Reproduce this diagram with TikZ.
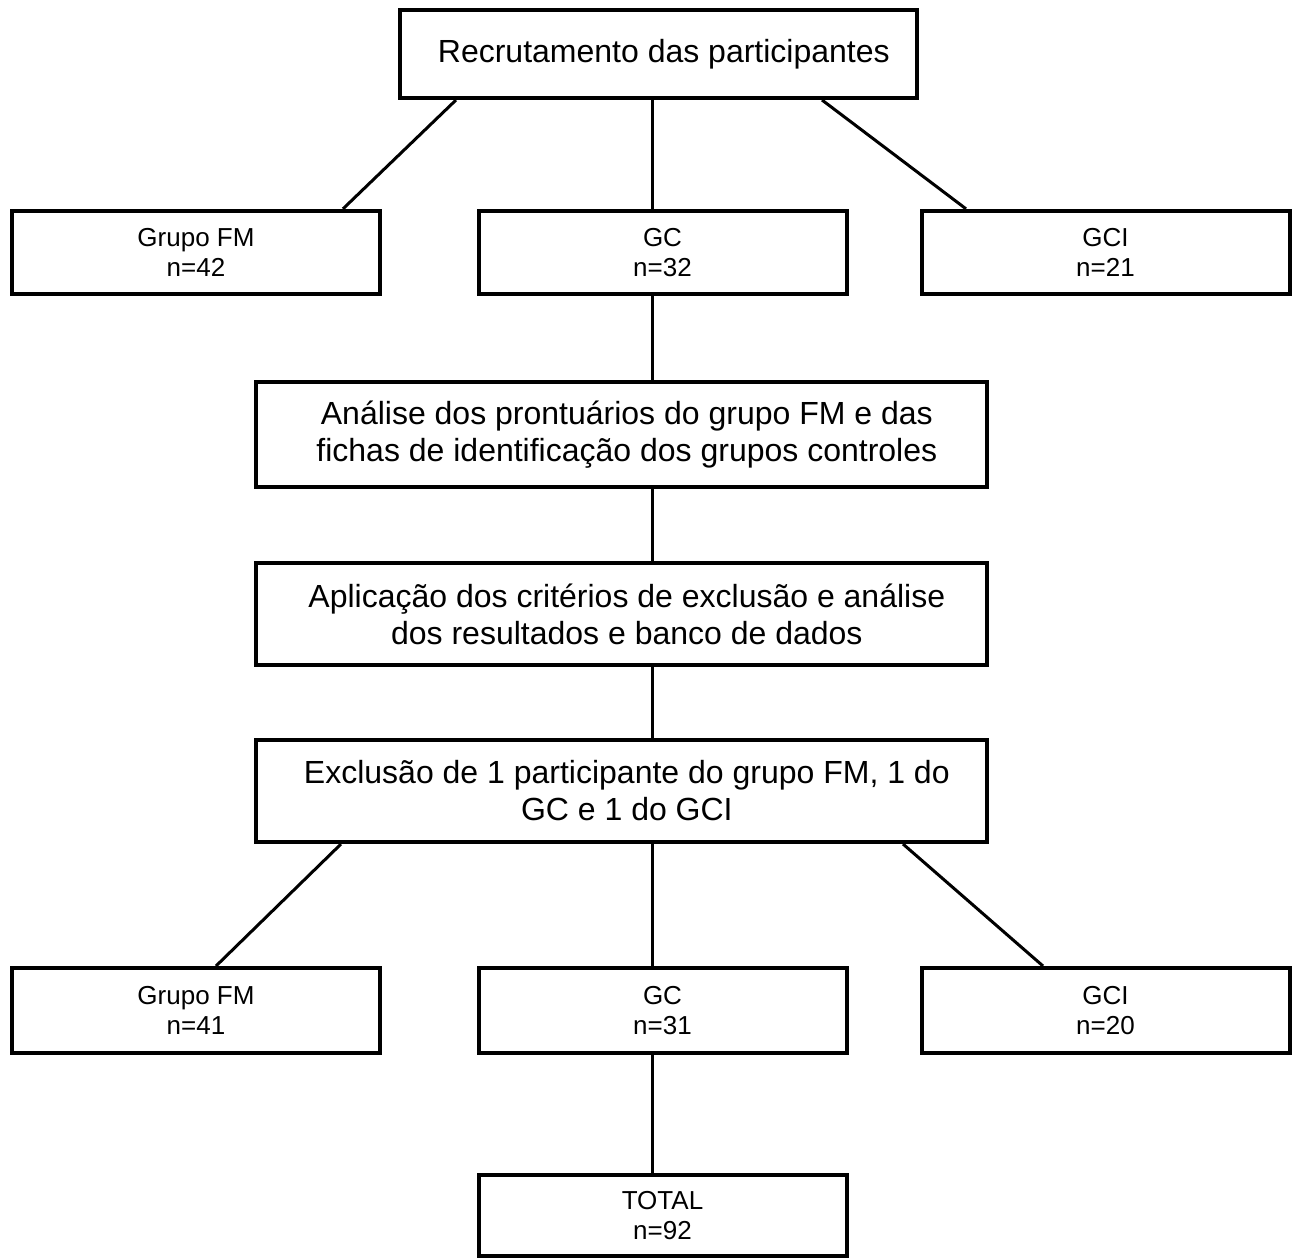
\documentclass[tikz,border=0pt]{standalone}
\usepackage{fontspec}
\setmainfont{Liberation Sans}
\begin{document}
\begin{tikzpicture}[x=0.75pt,y=-0.75pt,
  box/.style={draw, line width=3pt, inner sep=0pt, align=center},
  big/.style={box, font=\fontsize{24}{27.75}\selectfont},
  small/.style={box, font=\fontsize{19.5}{22.5}\selectfont, minimum width=276pt, minimum height=62.5pt},
  wide/.style={big, minimum width=548.25pt, minimum height=76.5pt},
  conn/.style={line width=2.25pt}]
\useasboundingbox (0,0) rectangle (1295,1258);
\node[big, minimum width=387.75pt, minimum height=66pt] (top) at (658.5,54) {\hspace{8pt}Recrutamento das participantes};
\node[small] (fm1) at (196,252.5) {Grupo FM\\n=42};
\node[small] (gc1) at (662.5,252.5) {GC\\n=32};
\node[small] (gci1) at (1105.5,252.5) {GCI\\n=21};
\node[wide, minimum height=78.75pt] (ana) at (621.5,434.5) {\hspace{8pt}Análise dos prontuários do grupo FM e das\\\hspace{8pt}fichas de identificação dos grupos controles};
\node[wide] (apl) at (621.5,614) {\hspace{8pt}Aplicação dos critérios de exclusão e análise\\\hspace{8pt}dos resultados e banco de dados};
\node[wide] (exc) at (621.5,791) {\hspace{8pt}Exclusão de 1 participante do grupo FM, 1 do\\\hspace{8pt}GC e 1 do GCI};
\node[small, minimum height=63.75pt] (fm2) at (196,1010.5) {Grupo FM\\n=41};
\node[small, minimum height=63.75pt] (gc2) at (662.5,1010.5) {GC\\n=31};
\node[small, minimum height=63.75pt] (gci2) at (1105.5,1010.5) {GCI\\n=20};
\node[small, minimum height=60.75pt] (tot) at (662.5,1215.5) {TOTAL\\n=92};

\draw[conn] (456,0 |- top.south) -- (343,0 |- fm1.north);
\draw[conn] (652,0 |- top.south) -- (652,0 |- gc1.north);
\draw[conn] (822,0 |- top.south) -- (966,0 |- gci1.north);
\draw[conn] (652,0 |- gc1.south) -- (652,0 |- ana.north);
\draw[conn] (652,0 |- ana.south) -- (652,0 |- apl.north);
\draw[conn] (652,0 |- apl.south) -- (652,0 |- exc.north);
\draw[conn] (341,0 |- exc.south) -- (216,0 |- fm2.north);
\draw[conn] (652,0 |- exc.south) -- (652,0 |- gc2.north);
\draw[conn] (903,0 |- exc.south) -- (1043,0 |- gci2.north);
\draw[conn] (652,0 |- gc2.south) -- (652,0 |- tot.north);
\end{tikzpicture}
\end{document}
